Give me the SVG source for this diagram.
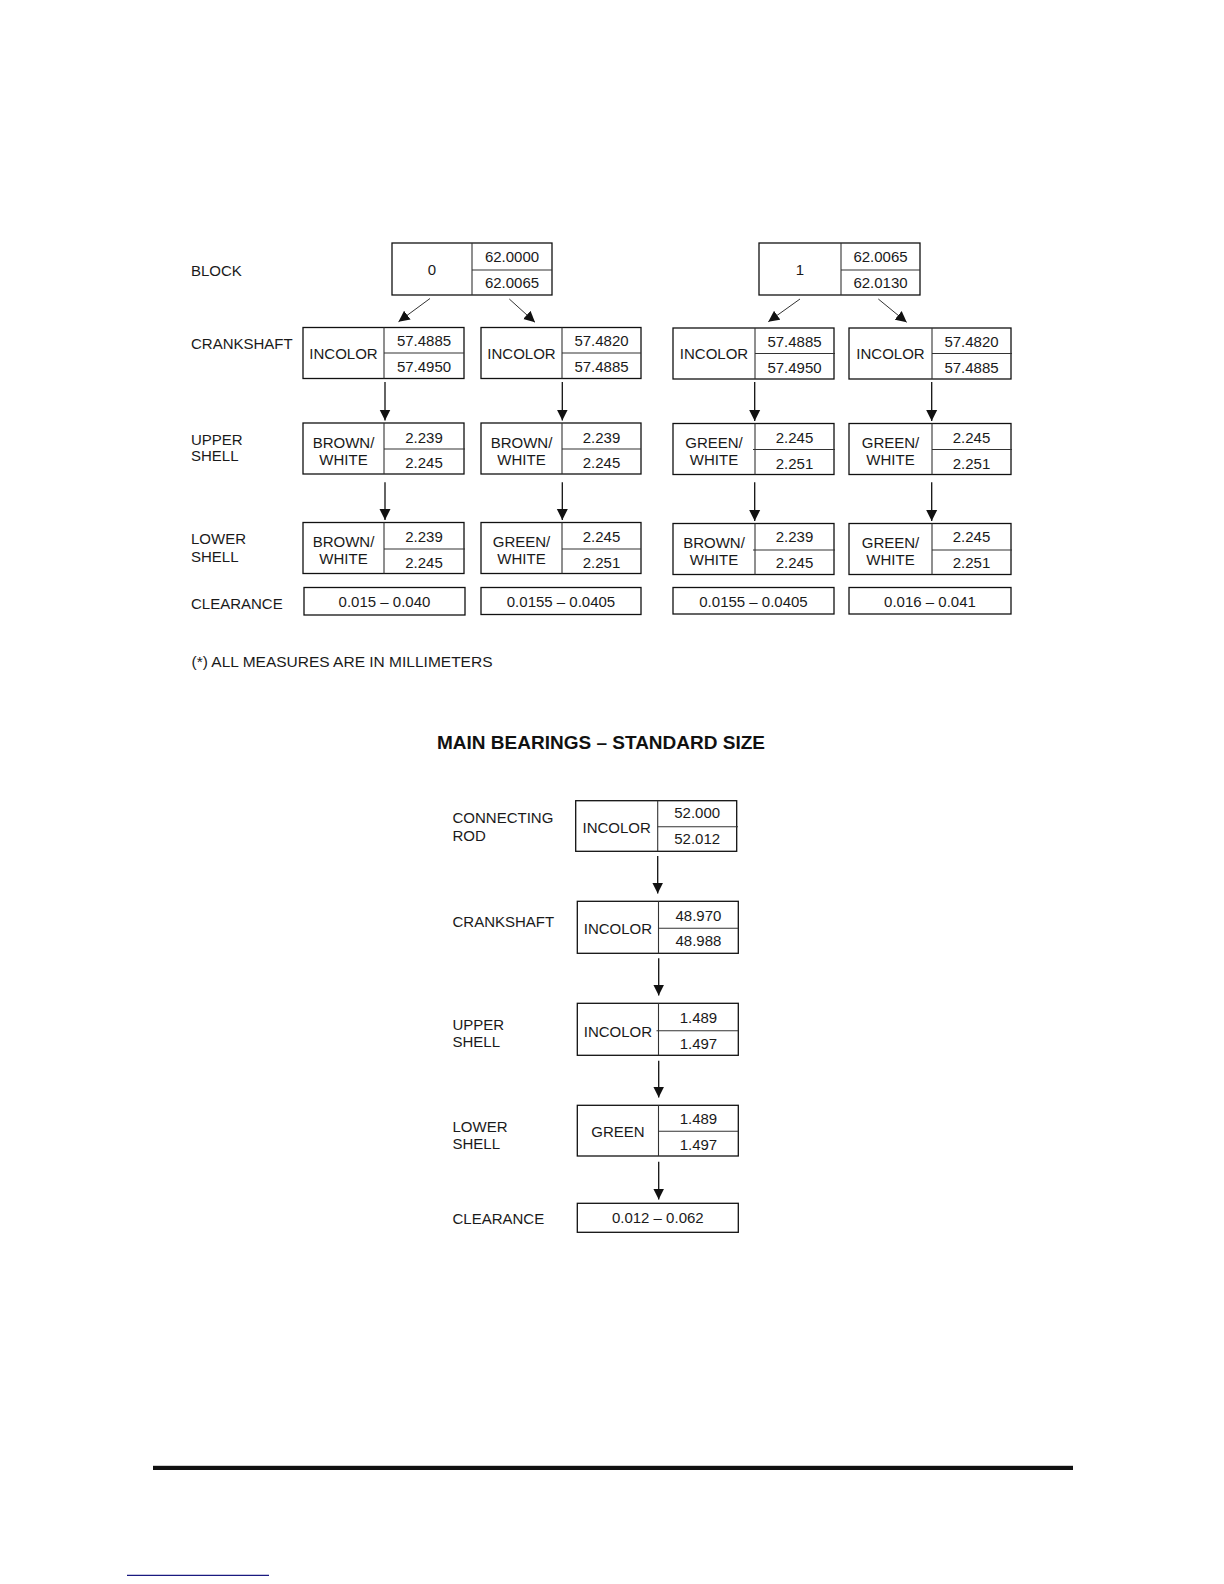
<svg xmlns="http://www.w3.org/2000/svg" width="1224" height="1584" viewBox="0 0 1224 1584">
<style>
  text { font-family: "Liberation Sans", Arial, sans-serif; font-size: 15px; fill: #1a1a1a; }
  .c { text-anchor: middle; }
  .title { font-size: 18px; font-weight: bold; fill: #111; }
  .box { fill: #fff; stroke: #111; stroke-width: 1.3; }
  .dv { stroke: #333; stroke-width: 1.1; fill: none; }
  .arr { stroke: #111; stroke-width: 1.3; fill: none; marker-end: url(#ah); }
  .arrd { stroke: #333; stroke-width: 1; fill: none; marker-end: url(#ah); }
</style>
<defs>
  <marker id="ah" markerUnits="userSpaceOnUse" markerWidth="12" markerHeight="12" viewBox="0 0 12 12" refX="11" refY="6" orient="auto">
    <path d="M0,0.5 L11,6 L0,11.5 z" fill="#111"/>
  </marker>
</defs>
<rect width="1224" height="1584" fill="#fff"/>

<!-- Top section row labels -->
<g id="labels-top">
  <text x="191" y="275.5">BLOCK</text>
  <text x="191" y="349">CRANKSHAFT</text>
  <text x="191" y="445">UPPER</text>
  <text x="191" y="461">SHELL</text>
  <text x="191" y="544">LOWER</text>
  <text x="191" y="561.5">SHELL</text>
  <text x="191" y="608.5">CLEARANCE</text>
</g>

<!-- Block nodes -->
<g id="block0">
  <rect class="box" x="392" y="243" width="160" height="52"/>
  <line class="dv" x1="472" y1="243" x2="472" y2="295"/>
  <line class="dv" x1="472" y1="270" x2="552" y2="270"/>
  <text class="c" x="432" y="275">0</text>
  <text class="c" x="512" y="262">62.0000</text>
  <text class="c" x="512" y="288">62.0065</text>
</g>
<g id="block1">
  <rect class="box" x="759" y="243" width="161" height="52"/>
  <line class="dv" x1="841" y1="243" x2="841" y2="295"/>
  <line class="dv" x1="841" y1="270" x2="920" y2="270"/>
  <text class="c" x="800" y="275">1</text>
  <text class="c" x="880.5" y="262">62.0065</text>
  <text class="c" x="880.5" y="288">62.0130</text>
</g>

<!-- Crankshaft row -->
<g id="crank-a">
  <rect class="box" x="303" y="327.5" width="161" height="51"/>
  <line class="dv" x1="384" y1="327.5" x2="384" y2="378.5"/>
  <line class="dv" x1="384" y1="353" x2="464" y2="353"/>
  <text class="c" x="343.5" y="358.5">INCOLOR</text>
  <text class="c" x="424" y="346">57.4885</text>
  <text class="c" x="424" y="372">57.4950</text>
</g>
<g id="crank-b">
  <rect class="box" x="481" y="327.5" width="160" height="51"/>
  <line class="dv" x1="562" y1="327.5" x2="562" y2="378.5"/>
  <line class="dv" x1="562" y1="353" x2="641" y2="353"/>
  <text class="c" x="521.5" y="358.5">INCOLOR</text>
  <text class="c" x="601.5" y="346">57.4820</text>
  <text class="c" x="601.5" y="372">57.4885</text>
</g>
<g id="crank-c">
  <rect class="box" x="673" y="328" width="161" height="51"/>
  <line class="dv" x1="755" y1="328" x2="755" y2="379"/>
  <line class="dv" x1="755" y1="353.5" x2="835" y2="353.5"/>
  <text class="c" x="714" y="359">INCOLOR</text>
  <text class="c" x="794.5" y="346.5">57.4885</text>
  <text class="c" x="794.5" y="372.5">57.4950</text>
</g>
<g id="crank-d">
  <rect class="box" x="849" y="328" width="162" height="51"/>
  <line class="dv" x1="932" y1="328" x2="932" y2="379"/>
  <line class="dv" x1="932" y1="353.5" x2="1012" y2="353.5"/>
  <text class="c" x="890.5" y="359">INCOLOR</text>
  <text class="c" x="971.5" y="346.5">57.4820</text>
  <text class="c" x="971.5" y="372.5">57.4885</text>
</g>

<!-- Upper shell row -->
<g id="upper-a">
  <rect class="box" x="303" y="423" width="161" height="51"/>
  <line class="dv" x1="384" y1="423" x2="384" y2="474"/>
  <line class="dv" x1="384" y1="449" x2="465" y2="449"/>
  <text class="c" x="343.5" y="447.5">BROWN/</text>
  <text class="c" x="343.5" y="464.5">WHITE</text>
  <text class="c" x="424" y="442.5">2.239</text>
  <text class="c" x="424" y="468">2.245</text>
</g>
<g id="upper-b">
  <rect class="box" x="481" y="423" width="160" height="51"/>
  <line class="dv" x1="562" y1="423" x2="562" y2="474"/>
  <line class="dv" x1="562" y1="449" x2="641" y2="449"/>
  <text class="c" x="521.5" y="447.5">BROWN/</text>
  <text class="c" x="521.5" y="464.5">WHITE</text>
  <text class="c" x="601.5" y="442.5">2.239</text>
  <text class="c" x="601.5" y="468">2.245</text>
</g>
<g id="upper-c">
  <rect class="box" x="673" y="423.5" width="161" height="51"/>
  <line class="dv" x1="755" y1="423.5" x2="755" y2="474.5"/>
  <line class="dv" x1="753" y1="449.5" x2="835" y2="449.5"/>
  <text class="c" x="714" y="448">GREEN/</text>
  <text class="c" x="714" y="465">WHITE</text>
  <text class="c" x="794.5" y="443">2.245</text>
  <text class="c" x="794.5" y="468.5">2.251</text>
</g>
<g id="upper-d">
  <rect class="box" x="849" y="423.5" width="162" height="51"/>
  <line class="dv" x1="932" y1="423.5" x2="932" y2="474.5"/>
  <line class="dv" x1="932" y1="449.5" x2="1012" y2="449.5"/>
  <text class="c" x="890.5" y="448">GREEN/</text>
  <text class="c" x="890.5" y="465">WHITE</text>
  <text class="c" x="971.5" y="443">2.245</text>
  <text class="c" x="971.5" y="468.5">2.251</text>
</g>

<!-- Lower shell row -->
<g id="lower-a">
  <rect class="box" x="303" y="522.5" width="161" height="51"/>
  <line class="dv" x1="384" y1="522.5" x2="384" y2="573.5"/>
  <line class="dv" x1="384" y1="549" x2="465" y2="549"/>
  <text class="c" x="343.5" y="546.5">BROWN/</text>
  <text class="c" x="343.5" y="563.5">WHITE</text>
  <text class="c" x="424" y="541.5">2.239</text>
  <text class="c" x="424" y="567.5">2.245</text>
</g>
<g id="lower-b">
  <rect class="box" x="481" y="522.5" width="160" height="51"/>
  <line class="dv" x1="562" y1="522.5" x2="562" y2="573.5"/>
  <line class="dv" x1="562" y1="549" x2="641" y2="549"/>
  <text class="c" x="521.5" y="546.5">GREEN/</text>
  <text class="c" x="521.5" y="563.5">WHITE</text>
  <text class="c" x="601.5" y="541.5">2.245</text>
  <text class="c" x="601.5" y="567.5">2.251</text>
</g>
<g id="lower-c">
  <rect class="box" x="673" y="523.5" width="161" height="51"/>
  <line class="dv" x1="755" y1="523.5" x2="755" y2="574.5"/>
  <line class="dv" x1="753" y1="550" x2="835" y2="550"/>
  <text class="c" x="714" y="547.5">BROWN/</text>
  <text class="c" x="714" y="564.5">WHITE</text>
  <text class="c" x="794.5" y="542">2.239</text>
  <text class="c" x="794.5" y="568">2.245</text>
</g>
<g id="lower-d">
  <rect class="box" x="849" y="523.5" width="162" height="51"/>
  <line class="dv" x1="932" y1="523.5" x2="932" y2="574.5"/>
  <line class="dv" x1="932" y1="550" x2="1012" y2="550"/>
  <text class="c" x="890.5" y="547.5">GREEN/</text>
  <text class="c" x="890.5" y="564.5">WHITE</text>
  <text class="c" x="971.5" y="542">2.245</text>
  <text class="c" x="971.5" y="568">2.251</text>
</g>

<!-- Clearance row -->
<g id="clear-a">
  <rect class="box" x="304" y="587.5" width="161" height="27.5"/>
  <text class="c" x="384.5" y="606.5">0.015 – 0.040</text>
</g>
<g id="clear-b">
  <rect class="box" x="481" y="587.5" width="160" height="27"/>
  <text class="c" x="561" y="606.5">0.0155 – 0.0405</text>
</g>
<g id="clear-c">
  <rect class="box" x="673" y="587.5" width="161" height="26.5"/>
  <text class="c" x="753.5" y="606.5">0.0155 – 0.0405</text>
</g>
<g id="clear-d">
  <rect class="box" x="849" y="587.5" width="162" height="26.5"/>
  <text class="c" x="930" y="606.5">0.016 – 0.041</text>
</g>

<g id="footnote">
  <text x="191.5" y="666.5" textLength="301" lengthAdjust="spacingAndGlyphs">(*) ALL MEASURES ARE IN MILLIMETERS</text>
</g>

<g id="title">
  <text class="title" x="437" y="748.5" textLength="328" lengthAdjust="spacingAndGlyphs">MAIN BEARINGS – STANDARD SIZE</text>
</g>

<!-- Bottom section labels -->
<g id="labels-bottom">
  <text x="452.5" y="822.5">CONNECTING</text>
  <text x="452.5" y="840.5">ROD</text>
  <text x="452.5" y="926.5">CRANKSHAFT</text>
  <text x="452.5" y="1029.5">UPPER</text>
  <text x="452.5" y="1046.5">SHELL</text>
  <text x="452.5" y="1131.5">LOWER</text>
  <text x="452.5" y="1148.5">SHELL</text>
  <text x="452.5" y="1223.5">CLEARANCE</text>
</g>

<g id="main-conrod">
  <rect class="box" x="575.7" y="800.7" width="161" height="50.6"/>
  <line class="dv" x1="657.7" y1="800.7" x2="657.7" y2="851.3"/>
  <line class="dv" x1="657.7" y1="826.7" x2="738" y2="826.7"/>
  <text class="c" x="616.7" y="832.5">INCOLOR</text>
  <text class="c" x="697.2" y="818.3">52.000</text>
  <text class="c" x="697.2" y="844.3">52.012</text>
</g>
<g id="main-crank">
  <rect class="box" x="577.3" y="901.3" width="161" height="52"/>
  <line class="dv" x1="658.5" y1="901.3" x2="658.5" y2="953.3"/>
  <line class="dv" x1="658.5" y1="928.3" x2="738.3" y2="928.3"/>
  <text class="c" x="617.9" y="934">INCOLOR</text>
  <text class="c" x="698.4" y="920.5">48.970</text>
  <text class="c" x="698.4" y="945.5">48.988</text>
</g>
<g id="main-upper">
  <rect class="box" x="577.3" y="1003.3" width="161" height="52"/>
  <line class="dv" x1="658.5" y1="1003.3" x2="658.5" y2="1055.3"/>
  <line class="dv" x1="656.5" y1="1030.7" x2="738.3" y2="1030.7"/>
  <text class="c" x="617.9" y="1036.7">INCOLOR</text>
  <text class="c" x="698.4" y="1023.3">1.489</text>
  <text class="c" x="698.4" y="1049.3">1.497</text>
</g>
<g id="main-lower">
  <rect class="box" x="577.3" y="1105.3" width="161" height="50.7"/>
  <line class="dv" x1="658.5" y1="1105.3" x2="658.5" y2="1156"/>
  <line class="dv" x1="658.5" y1="1131.3" x2="738.3" y2="1131.3"/>
  <text class="c" x="617.9" y="1137.3">GREEN</text>
  <text class="c" x="698.4" y="1124">1.489</text>
  <text class="c" x="698.4" y="1150">1.497</text>
</g>
<g id="main-clear">
  <rect class="box" x="577.3" y="1203.3" width="161" height="29"/>
  <text class="c" x="657.8" y="1223.3">0.012 – 0.062</text>
</g>

<!-- Connectors -->
<g id="connectors">
  <line class="arrd" x1="430" y1="298.5" x2="398.5" y2="321.7"/>
  <line class="arrd" x1="509.3" y1="299" x2="535" y2="322.3"/>
  <line class="arrd" x1="800" y1="299" x2="768.3" y2="321.7"/>
  <line class="arrd" x1="878.3" y1="299" x2="906.7" y2="322.3"/>

  <line class="arr" x1="385" y1="382" x2="385" y2="420.5"/>
  <line class="arr" x1="562.3" y1="382" x2="562.3" y2="420.5"/>
  <line class="arr" x1="754.7" y1="382" x2="754.7" y2="421"/>
  <line class="arr" x1="931.7" y1="382" x2="931.7" y2="421"/>

  <line class="arr" x1="385" y1="482.3" x2="385" y2="520"/>
  <line class="arr" x1="562.3" y1="482.3" x2="562.3" y2="520"/>
  <line class="arr" x1="754.7" y1="482.3" x2="754.7" y2="521"/>
  <line class="arr" x1="931.7" y1="482.3" x2="931.7" y2="521"/>

  <line class="arr" x1="657.7" y1="856" x2="657.7" y2="893.5"/>
  <line class="arr" x1="658.7" y1="958.3" x2="658.7" y2="995.5"/>
  <line class="arr" x1="658.7" y1="1060.7" x2="658.7" y2="1097.5"/>
  <line class="arr" x1="658.7" y1="1161.7" x2="658.7" y2="1199.5"/>
</g>

<g id="page-rules">
  <rect x="153" y="1465.8" width="920" height="4.2" fill="#111"/>
  <line x1="127" y1="1575.3" x2="269" y2="1575.3" stroke="#1a1a80" stroke-width="1.2"/>
</g>
</svg>
